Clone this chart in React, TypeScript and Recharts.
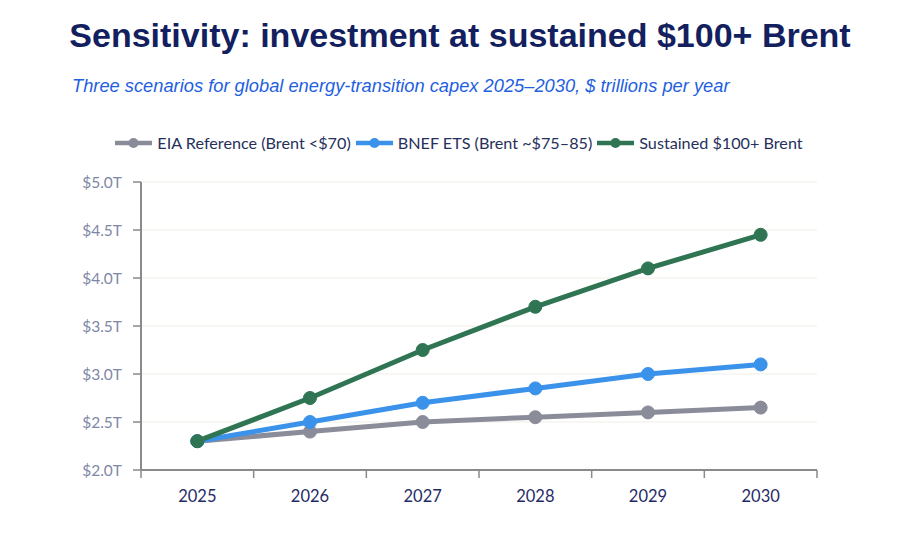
import React from "react";
import { LineChart, Line, XAxis, YAxis, CartesianGrid } from "recharts";

const years = ["2025", "2026", "2027", "2028", "2029", "2030"];
const eia = [2.3, 2.4, 2.5, 2.55, 2.6, 2.65];
const bnef = [2.3, 2.5, 2.7, 2.85, 3.0, 3.1];
const sustained = [2.3, 2.75, 3.25, 3.7, 4.1, 4.45];
const yTicks = [2.0, 2.5, 3.0, 3.5, 4.0, 4.5, 5.0];

const seriesInfo = [
  { key: "eia", name: "EIA Reference (Brent <$70)", color: "#8a8c99" },
  { key: "bnef", name: "BNEF ETS (Brent ~$75–85)", color: "#3a92ea" },
  { key: "sustained", name: "Sustained $100+ Brent", color: "#2f7453" },
];

const data = years.map((y, i) => ({ year: y, eia: eia[i], bnef: bnef[i], sustained: sustained[i] }));

const FONT = "Lato, 'Open Sans', sans-serif";

const XTick = (props: any) => {
  const { x, y, payload, index, visibleTicksCount } = props;
  const off = payload && payload.offset ? payload.offset : 0;
  return (
    <g>
      <line x1={x - off} x2={x - off} y1={y - 8} y2={y} stroke="#8a8a8a" strokeWidth={1.5} />
      {index === visibleTicksCount - 1 && (
        <line x1={x + off} x2={x + off} y1={y - 8} y2={y} stroke="#8a8a8a" strokeWidth={1.5} />
      )}
      <text x={x} y={y + 24} textAnchor="middle" fill="#1f2b66" fontSize={16.5} fontFamily={FONT}>
        {payload.value}
      </text>
    </g>
  );
};

const LegendBlock = () => (
  <div
    style={{
      position: "absolute",
      top: 133,
      left: 0,
      width: 918,
      display: "flex",
      justifyContent: "center",
      gap: 5,
      fontFamily: FONT,
      fontSize: 16.2,
      color: "#26305a",
      lineHeight: "20px",
      whiteSpace: "nowrap",
    }}
  >
    {seriesInfo.map((s) => (
      <div key={s.key} style={{ display: "flex", alignItems: "center" }}>
        <svg width={37} height={14} style={{ marginRight: 5 }}>
          <line x1={0} x2={37} y1={7} y2={7} stroke={s.color} strokeWidth={4.5} />
          <circle cx={18.5} cy={7} r={5} fill={s.color} />
        </svg>
        <span>{s.name}</span>
      </div>
    ))}
  </div>
);

export default function App() {
  return (
    <div style={{ position: "absolute", left: 0, top: 0, width: 900, height: 533, background: "#fff", overflow: "hidden" }}>
      <div
        style={{
          position: "absolute",
          left: 0,
          width: 920,
          top: 16,
          textAlign: "center",
          fontFamily: "'Liberation Sans', Arial, sans-serif",
          fontWeight: 700,
          fontSize: 34,
          color: "#131f5e",
          whiteSpace: "nowrap",
        }}
      >
        Sensitivity: investment at sustained $100+ Brent
      </div>
      <div
        style={{
          position: "absolute",
          left: 72,
          top: 75,
          fontFamily: "'Liberation Sans', Arial, sans-serif",
          fontStyle: "italic",
          fontSize: 18.3,
          color: "#1f5fe0",
          whiteSpace: "nowrap",
        }}
      >
        Three scenarios for global energy-transition capex 2025–2030, $ trillions per year
      </div>
      <LegendBlock />
      <div style={{ position: "absolute", left: 0, top: 0 }}>
        <LineChart width={900} height={533} data={data} margin={{ top: 182, right: 83, bottom: 33, left: 81 }}>
          <CartesianGrid vertical={false} stroke="#eeede6" strokeWidth={1} />
          <XAxis
            dataKey="year"
            scale="band"
            axisLine={{ stroke: "#8a8a8a", strokeWidth: 2 }}
            tickLine={false}
            tick={<XTick />}
            height={30}
            interval={0}
          />
          <YAxis
            width={60}
            domain={[2, 5]}
            ticks={yTicks}
            type="number"
            tickFormatter={(v: number) => `$${v.toFixed(1)}T`}
            axisLine={{ stroke: "#8a8a8a", strokeWidth: 2 }}
            tickLine={{ stroke: "#8a8a8a", strokeWidth: 1.5 }}
            tickSize={8}
            tickMargin={11}
            tick={{ fill: "#7e88a6", fontSize: 15.5, fontFamily: FONT }}
          />
          {seriesInfo.map((s) => (
            <Line
              key={s.key}
              dataKey={s.key}
              name={s.name}
              stroke={s.color}
              strokeWidth={5}
              dot={{ r: 6.5, fill: s.color, stroke: s.color, strokeWidth: 1 }}
              activeDot={false}
              isAnimationActive={false}
            />
          ))}
        </LineChart>
      </div>
    </div>
  );
}
